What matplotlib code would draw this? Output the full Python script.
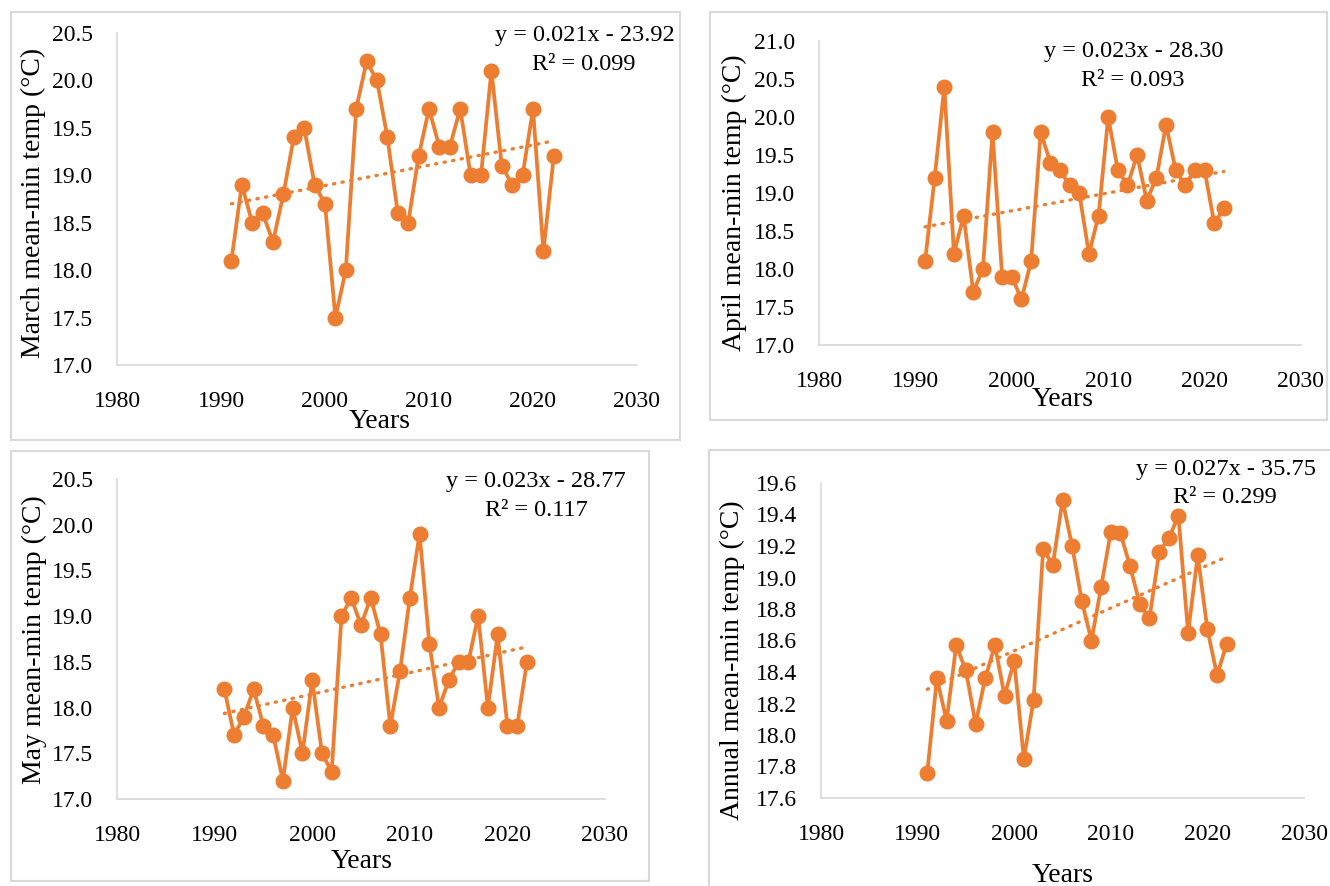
import numpy as np
import matplotlib
matplotlib.use('Agg')
import matplotlib.pyplot as plt
from matplotlib.patches import Rectangle

years = list(range(1991, 2023))

march = [18.1, 18.9, 18.5, 18.6, 18.3, 18.8, 19.4, 19.5, 18.9, 18.7,
         17.5, 18.0, 19.7, 20.2, 20.0, 19.4, 18.6, 18.5, 19.2, 19.7,
         19.3, 19.3, 19.7, 19.0, 19.0, 20.1, 19.1, 18.9, 19.0, 19.7,
         18.2, 19.2]
april = [18.1, 19.2, 20.4, 18.2, 18.7, 17.7, 18.0, 19.8, 17.9, 17.9,
         17.6, 18.1, 19.8, 19.4, 19.3, 19.1, 19.0, 18.2, 18.7, 20.0,
         19.3, 19.1, 19.5, 18.9, 19.2, 19.9, 19.3, 19.1, 19.3, 19.3,
         18.6, 18.8]
may = [18.2, 17.7, 17.9, 18.2, 17.8, 17.7, 17.2, 18.0, 17.5, 18.3,
       17.5, 17.3, 19.0, 19.2, 18.9, 19.2, 18.8, 17.8, 18.4, 19.2,
       19.9, 18.7, 18.0, 18.3, 18.5, 18.5, 19.0, 18.0, 18.8, 17.8,
       17.8, 18.5]
annual = [17.76, 18.36, 18.09, 18.57, 18.41, 18.07, 18.36, 18.57, 18.25, 18.47,
          17.85, 18.22, 19.18, 19.08, 19.49, 19.20, 18.85, 18.60, 18.94, 19.29,
          19.28, 19.07, 18.83, 18.74, 19.16, 19.25, 19.39, 18.65, 19.14, 18.67,
          18.38, 18.58]

xticks = [1980, 1990, 2000, 2010, 2020, 2030]

W, H = 1330, 886
ORANGE = '#ED7D31'
GREY = '#d9d9d9'
FONT = 'Liberation Serif'

plt.rcParams['font.family'] = FONT


def fx(x):
    return x / W


def fy(y):
    return 1 - y / H


# panel layout in pixels: axes box, border box, label/equation anchors
panels = [
    dict(data=march, ylim=(17.0, 20.5), step=0.5, fmt='{:.1f}',
         ylabel='March mean-min temp (°C)',
         eq='y = 0.021x - 23.92', r2='R² = 0.099',
         ax=(117, 33, 637, 365), border=(11, 12, 680, 440),
         ylab=(33, 203), xlab=(380, 422), eqpos=(585, 35), r2pos=(584, 65)),
    dict(data=april, ylim=(17.0, 21.0), step=0.5, fmt='{:.1f}',
         ylabel='April mean-min temp (°C)',
         eq='y = 0.023x - 28.30', r2='R² = 0.093',
         ax=(819, 41, 1301, 345), border=(710, 12, 1327, 420),
         ylab=(734, 203), xlab=(1063, 400), eqpos=(1134, 52), r2pos=(1133, 80)),
    dict(data=may, ylim=(17.0, 20.5), step=0.5, fmt='{:.1f}',
         ylabel='May mean-min temp (°C)',
         eq='y = 0.023x - 28.77', r2='R² = 0.117',
         ax=(117, 479, 605, 799), border=(11, 451, 649, 881),
         ylab=(34, 640), xlab=(362, 862), eqpos=(536, 482), r2pos=(536, 510)),
    dict(data=annual, ylim=(17.6, 19.6), step=0.2, fmt='{:.1f}',
         ylabel='Annual mean-min temp (°C)',
         eq='y = 0.027x - 35.75', r2='R² = 0.299',
         ax=(821, 483, 1304, 798), border=(709, 450, 1340, 900),
         ylab=(732, 660), xlab=(1063, 875), eqpos=(1226, 470), r2pos=(1225, 498)),
]

fig = plt.figure(figsize=(W / 100, H / 100), dpi=100)
fig.patch.set_facecolor('white')

for p in panels:
    l, t, r, b = p['border']
    fig.add_artist(Rectangle((fx(l), fy(b)), fx(r - l), (b - t) / H,
                             transform=fig.transFigure, facecolor='white',
                             edgecolor=GREY, linewidth=1.5, zorder=0))

    l, t, r, b = p['ax']
    ax = fig.add_axes([fx(l), fy(b), fx(r - l), (b - t) / H])
    ax.patch.set_alpha(0)

    vals = np.array(p['data'])
    ax.plot(years, vals, color=ORANGE, lw=2.7, marker='o', ms=10.5,
            zorder=3, clip_on=False)

    # linear trend over the series
    slope, icpt = np.polyfit(years, vals, 1)
    yr = np.array([years[0], years[-1]])
    ax.plot(yr, slope * yr + icpt, color=ORANGE, lw=2.4,
            linestyle=(0, (0.4, 2.2)), dash_capstyle='round', zorder=2)

    lo, hi = p['ylim']
    ax.set_xlim(1980, 2030)
    ax.set_ylim(lo, hi)
    ax.set_xticks(xticks)
    yt = np.round(np.arange(lo, hi + p['step'] / 2, p['step']), 2)
    ax.set_yticks(yt)
    ax.set_yticklabels([p['fmt'].format(v) for v in yt])
    ax.tick_params(length=0, labelsize=17, colors='black')
    ax.tick_params(axis='x', pad=19)
    ax.tick_params(axis='y', pad=17)
    for side in ['top', 'right']:
        ax.spines[side].set_visible(False)
    for side in ['left', 'bottom']:
        ax.spines[side].set_color(GREY)
        ax.spines[side].set_linewidth(1.2)

    fig.text(fx(p['ylab'][0]), fy(p['ylab'][1]), p['ylabel'], rotation=90,
             ha='center', va='center', fontsize=20)
    fig.text(fx(p['xlab'][0]), fy(p['xlab'][1]), 'Years',
             ha='center', va='center', fontsize=20)
    fig.text(fx(p['eqpos'][0]), fy(p['eqpos'][1]), p['eq'],
             ha='center', va='center', fontsize=17.5)
    fig.text(fx(p['r2pos'][0]), fy(p['r2pos'][1]), p['r2'],
             ha='center', va='center', fontsize=17.5)

fig.savefig('out.png', dpi=100, facecolor='white')
